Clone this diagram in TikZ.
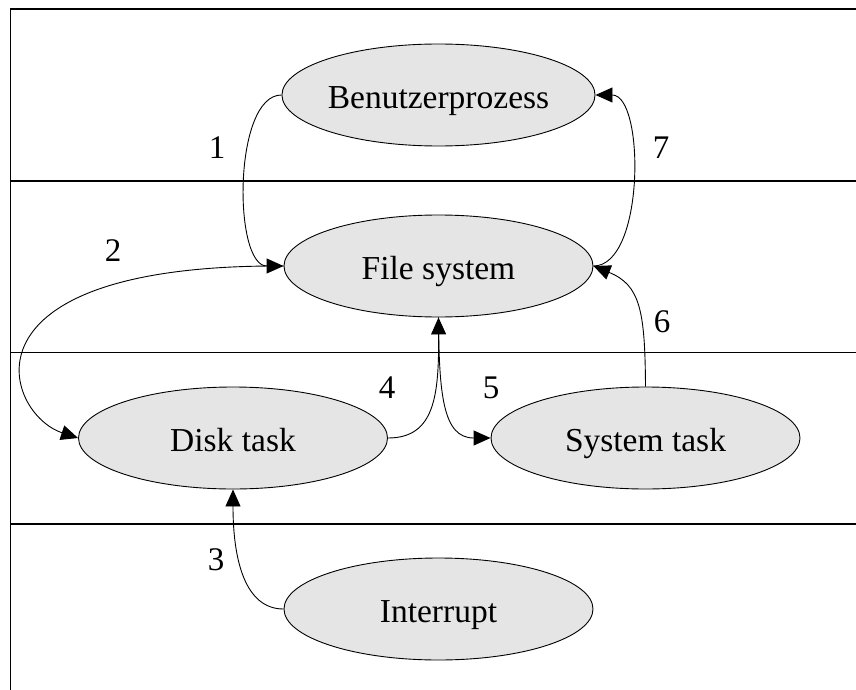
\documentclass[tikz,border=0pt]{standalone}
\usepackage{fontspec}
\setmainfont{Liberation Serif}
\usetikzlibrary{shapes.geometric,arrows.meta}

\begin{document}
\begin{tikzpicture}[
		x=1pt, y=-1pt,
		proc/.style={ellipse,draw,line width=0.9pt,fill=black!10,minimum width=309pt,minimum height=102pt,inner sep=0pt,text height=27pt,text depth=0pt,font=\fontsize{33.5}{38}\selectfont},
		lbl/.style={inner sep=0pt,font=\fontsize{33}{38}\selectfont},
		conn/.style={line width=0.9pt,-{Triangle[length=17pt,width=15pt]}}
		]
		\useasboundingbox (0,0) rectangle (856,690);
		% frame and layers
		\draw[line width=1.2pt] (856,9) -- (10.5,9) -- (10.5,690);
		\draw[line width=2pt] (10.5,181) -- (856,181);
		\draw[line width=1pt] (10.5,352) -- (856,352);
		\draw[line width=1.3pt] (10.5,524) -- (856,524);
		
		\node[proc] (benutzer) at (438.5,95) {Benutzerprozess};
		\node[proc] (fs) at (438.5,266) {File system};
		\node[proc] (disk) at (233,438) {Disk task};
		\node[proc] (systask) at (645.5,438) {System task};
		\node[proc] (intr) at (438.5,609) {Interrupt};
		
		\draw[conn] (benutzer.west) .. controls (233,95) and (233,266) .. (fs.west);
		\draw[conn] (fs.west) .. controls (-50,264) and (5,414) .. (disk.west);
		\draw[conn] (intr.west) .. controls (245,609) and (233,560) .. (disk.south);
		\draw[conn] (disk.east) .. controls (435,438) and (439,395) .. (fs.south);
		\draw[conn] (fs.south) .. controls (439,395) and (443,438) .. (systask.west);
		\draw[conn] (systask.north) .. controls (645,310) and (640,285) .. (fs.east);
		\draw[conn] (fs.east) .. controls (645,266) and (645,95) .. (benutzer.east);
		
		\node[lbl] (l1) at (217,148) {1};
		\node[lbl] (l2) at (113,251) {2};
		\node[lbl] (l3) at (216,560) {3};
		\node[lbl] (l4) at (387,388) {4};
		\node[lbl] (l5) at (491,388) {5};
		\node[lbl] (l6) at (662,322) {6};
		\node[lbl] (l7) at (661,148) {7};
	\end{tikzpicture}
\end{document}
